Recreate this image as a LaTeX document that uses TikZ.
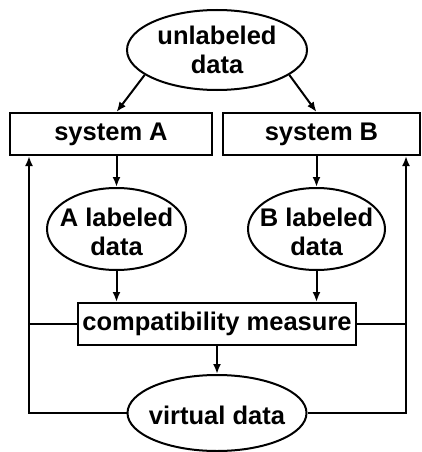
\documentclass[tikz,border=0pt]{standalone}
\usepackage{fontspec}
\setmainfont{Liberation Sans}
\usetikzlibrary{shapes.geometric,arrows.meta}
\begin{document}
\begin{tikzpicture}[x=1pt,y=-1pt,
  line width=2pt,
  every node/.style={font=\fontsize{25.5}{29.5}\selectfont\bfseries, align=center, inner sep=0pt},
  ell/.style={ellipse, draw},
  box/.style={rectangle, draw},
  arr/.style={-{Latex[length=10pt,width=8pt]}}]
\useasboundingbox (0,0) rectangle (422,452);
\node[ell, minimum width=180, minimum height=80, label=center:{unlabeled\\data}] (unl) at (217,50) {};
\node[box, minimum width=202, minimum height=42] (sysA) at (111,134) {system A};
\node[box, minimum width=197, minimum height=42] (sysB) at (321.5,134) {system B};
\node[ell, minimum width=139, minimum height=82, label={[yshift=-3pt]center:{A labeled\\data}}] (al) at (116.5,229) {};
\node[ell, minimum width=137, minimum height=82, label={[yshift=-3pt]center:{B labeled\\data}}] (bl) at (316.5,229) {};
\node[box, minimum width=278, minimum height=42] (comp) at (217,324) {compatibility measure};
\node[ell, minimum width=179, minimum height=76, label={[yshift=-2pt]center:{virtual data}}] (virt) at (217,413) {};
\coordinate (lx) at (29,0);
\coordinate (rx) at (406,0);
\draw[arr] (unl.199) -- (al.north |- sysA.north);
\draw[arr] (unl.341) -- (bl.north |- sysB.north);
\draw[arr] (al.north |- sysA.south) -- (al.north);
\draw[arr] (bl.north |- sysB.south) -- (bl.north);
\draw[arr] (al.south) -- (al.south |- comp.north);
\draw[arr] (bl.south) -- (bl.south |- comp.north);
\draw[arr] (comp.south) -- (virt.north);
\draw[arr] (virt.west) -| (lx |- sysA.south);
\draw[arr] (virt.east) -| (rx |- sysB.south);
\draw (comp.west) -- (lx |- comp.west);
\draw (comp.east) -- (rx |- comp.east);
\end{tikzpicture}
\end{document}
